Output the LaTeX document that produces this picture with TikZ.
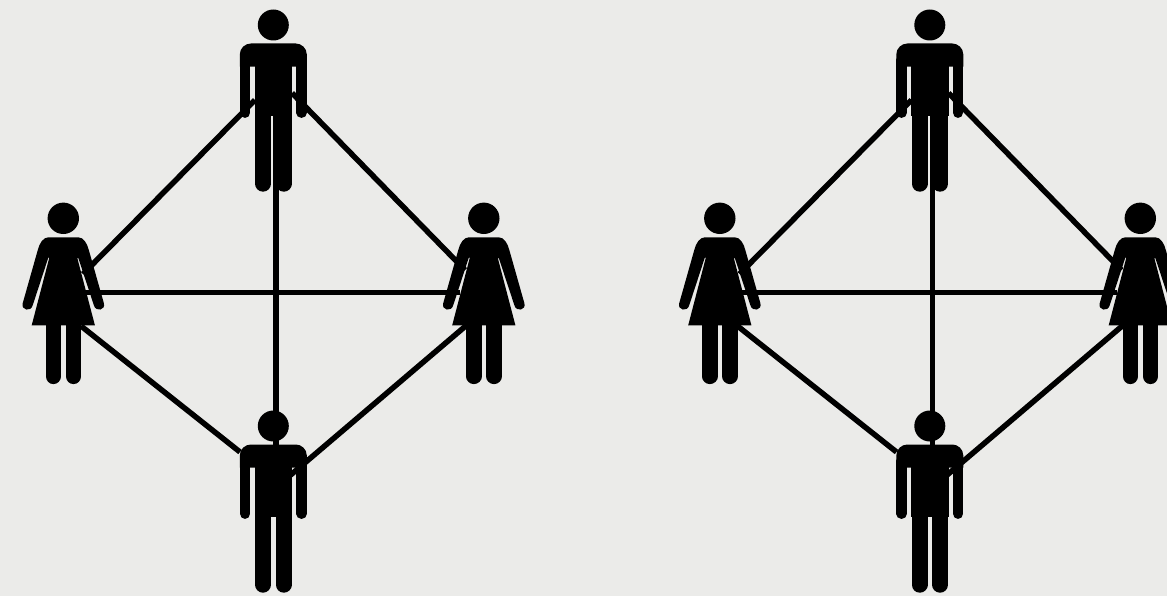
\documentclass[tikz,border=0pt]{standalone}
\definecolor{bgcol}{RGB}{235,235,233}
\tikzset{
  link/.style={black,line width=5.5pt},
  limbarm/.style={black,line width=10.5pt,line cap=round},
  limbleg/.style={black,line width=16pt,line cap=round},
  limbwleg/.style={black,line width=15.6pt,line cap=round},
  manfig/.pic={
    \fill (0,0) circle[radius=15.5pt];
    \fill (-33.5,41.7) -- (-33.5,29.5) .. controls (-33.5,23) and (-28,18.5) .. (-22.5,18.5)
       -- (22.5,18.5) .. controls (28,18.5) and (33.5,23) .. (33.5,29.5) -- (33.5,41.7) -- cycle;
    \fill (-18.7,30) rectangle (18.7,91);
    \draw[limbarm] (-28.25,35) -- (-28.25,87.7);
    \draw[limbarm] (28.25,35) -- (28.25,87.7);
    \draw[limbleg] (-10.3,85) -- (-10.3,158.7);
    \draw[limbleg] (10.3,85) -- (10.3,158.7);
  },
  womanfig/.pic={
    \fill (0,0) circle[radius=15.7pt];
    \fill (-15,19) .. controls (-20,19) and (-24,25) .. (-25.6,32) -- (-40.6,85)
      .. controls (-42.5,92) and (-32.5,94) .. (-30.6,87) -- (-15,39.4) -- (-14,39.4)
      -- (-31.6,107) -- (31.6,107) -- (14,39.7) -- (15,39.7) -- (30.6,87)
      .. controls (32.5,94) and (42.5,92) .. (40.6,85) -- (25.6,32)
      .. controls (24,25) and (20,19) .. (15,19) -- cycle;
    \draw[limbwleg] (-10,100) -- (-10,158);
    \draw[limbwleg] (10.2,100) -- (10.2,158);
  }
}
\begin{document}
\begin{tikzpicture}[x=1pt,y=-1pt]
\useasboundingbox (0,0) rectangle (1167,596);
\clip (0,0) rectangle (1167,596);
\fill[bgcol] (0,0) rectangle (1167,596);
\foreach \p/\s in {a/0,b/656.5}{
\begin{scope}[xshift=\s pt]
  \pic at (273.3,25) {manfig};
  \pic at (273.3,426) {manfig};
  \pic at (63.3,218.3) {womanfig};
  \pic at (483.8,218.3) {womanfig};
  \coordinate (\p TL) at (255,100);
  \coordinate (\p LT) at (83,274);
  \coordinate (\p TR) at (292,93);
  \coordinate (\p RT) at (465,270);
  \coordinate (\p TB) at (276,112);
  \coordinate (\p BT) at (276,450);
  \coordinate (\p LR) at (85,292.3);
  \coordinate (\p RL) at (460,292.3);
  \coordinate (\p LB) at (81,326);
  \coordinate (\p BL) at (240,452);
  \coordinate (\p RB) at (468,324);
  \coordinate (\p BR) at (290,475.5);
  \draw[link] (\p TL) -- (\p LT);
  \draw[link] (\p TR) -- (\p RT);
  \draw[link] (\p TB) -- (\p BT);
  \draw[link] (\p LR) -- (\p RL);
  \draw[link] (\p LB) -- (\p BL);
  \draw[link] (\p RB) -- (\p BR);
\end{scope}
}
\end{tikzpicture}
\end{document}
